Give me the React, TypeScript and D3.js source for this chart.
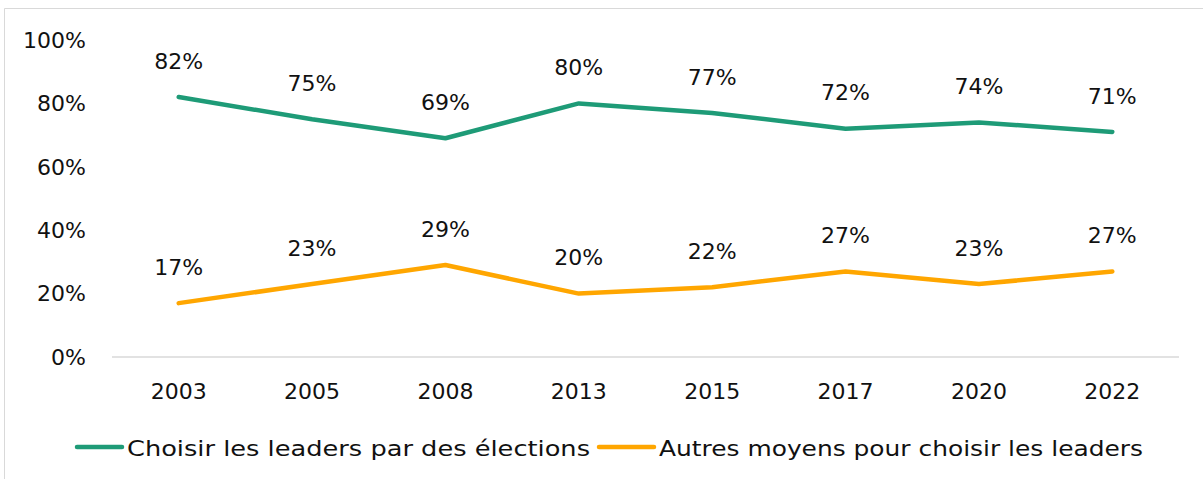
import React from "react";
import * as d3 from "d3";

const years = ["2003", "2005", "2008", "2013", "2015", "2017", "2020", "2022"];
const elections = [82, 75, 69, 80, 77, 72, 74, 71];
const autres = [17, 23, 29, 20, 22, 27, 23, 27];
const yTicks = [0, 20, 40, 60, 80, 100];
const seriesNames = ["Choisir les leaders par des élections", "Autres moyens pour choisir les leaders"];
const colors = ["#1E9B77", "#FFA600"];

const W = 1203, H = 479;
const FONT = "'DejaVu Sans', sans-serif";
const FS = 22;

export default function App() {
  const x = d3.scaleBand().domain(years).range([112, 1179]);
  const y = d3.scaleLinear().domain([0, 100]).range([357, 40]);
  const line = d3.line<number>().x((_, i) => (x(years[i]) as number) + x.bandwidth() / 2).y((d) => y(d));
  const series = [elections, autres];
  return (
    <svg width={W} height={H} style={{ position: "absolute", left: 0, top: 0 }} fontFamily={FONT}>
      <rect x={0} y={0} width={W} height={H} fill="#fff" />
      <path d={`M4.5,${H} V8.5 H${W}`} fill="none" stroke="#d9d9d9" strokeWidth={1} />
      <line x1={112} x2={1179} y1={y(0)} y2={y(0)} stroke="#d9d9d9" strokeWidth={1.5} />
      {yTicks.map((t) => (
        <text key={t} x={86} y={y(t)} dy="0.35em" textAnchor="end" fontSize={FS} fill="#111">{t}%</text>
      ))}
      {years.map((yr) => (
        <text key={yr} x={(x(yr) as number) + x.bandwidth() / 2} y={391} dy="0.35em" textAnchor="middle" fontSize={FS} fill="#111">{yr}</text>
      ))}
      {series.map((s, si) => (
        <g key={si}>
          <path d={line(s) as string} fill="none" stroke={colors[si]} strokeWidth={4.5} strokeLinecap="round" strokeLinejoin="round" />
          {s.map((v, i) => (
            <text key={i} x={(x(years[i]) as number) + x.bandwidth() / 2} y={y(v) - 36} dy="0.35em" textAnchor="middle" fontSize={FS} fill="#111">{v}%</text>
          ))}
        </g>
      ))}
      <g>
        <line x1={77} x2={122} y1={447} y2={447} stroke={colors[0]} strokeWidth={4.5} strokeLinecap="round" />
        <text x={127} y={448} dy="0.35em" fontSize={FS} fill="#111" textLength={463} lengthAdjust="spacingAndGlyphs">{seriesNames[0]}</text>
        <line x1={599} x2={654} y1={447} y2={447} stroke={colors[1]} strokeWidth={4.5} strokeLinecap="round" />
        <text x={659} y={448} dy="0.35em" fontSize={FS} fill="#111" textLength={484} lengthAdjust="spacingAndGlyphs">{seriesNames[1]}</text>
      </g>
    </svg>
  );
}
